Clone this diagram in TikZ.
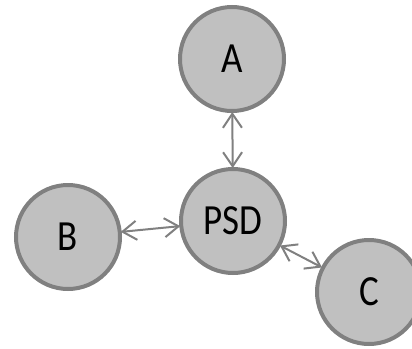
\documentclass[tikz,border=0pt]{standalone}
\usepackage{fontspec}
\setmainfont{Carlito}[FakeStretch=0.86]
\usetikzlibrary{arrows.meta}
\definecolor{nodefill}{RGB}{192,192,192}
\definecolor{nodeline}{RGB}{128,128,128}
\begin{document}
\begin{tikzpicture}[x=1pt,y=-1pt,
    circ/.style={circle,draw=nodeline,fill=nodefill,line width=4pt,
      minimum size=104pt,inner sep=0pt,outer sep=1pt,
      font=\fontsize{43}{46}\selectfont},
    link/.style={draw=nodeline,line width=2pt,
      {Straight Barb[length=14pt,width=19pt,line width=2pt]}-{Straight Barb[length=14pt,width=19pt,line width=2pt]}}]
    \useasboundingbox[clip] (0,0) rectangle (412,348);
    % Centre and satellites
    \node[circ] (PSD) at (233,221) {PSD};
    \node[circ] (A) at (232,59) {A};
    \node[circ] (B) at (68,237) {B};
    \node[circ] (C) at (369,292) {C};

    % Links
    \draw[link] (A) -- (PSD);
    \draw[link] (B) -- (PSD);
    \draw[link] (PSD) -- (C);
\end{tikzpicture}
\end{document}
